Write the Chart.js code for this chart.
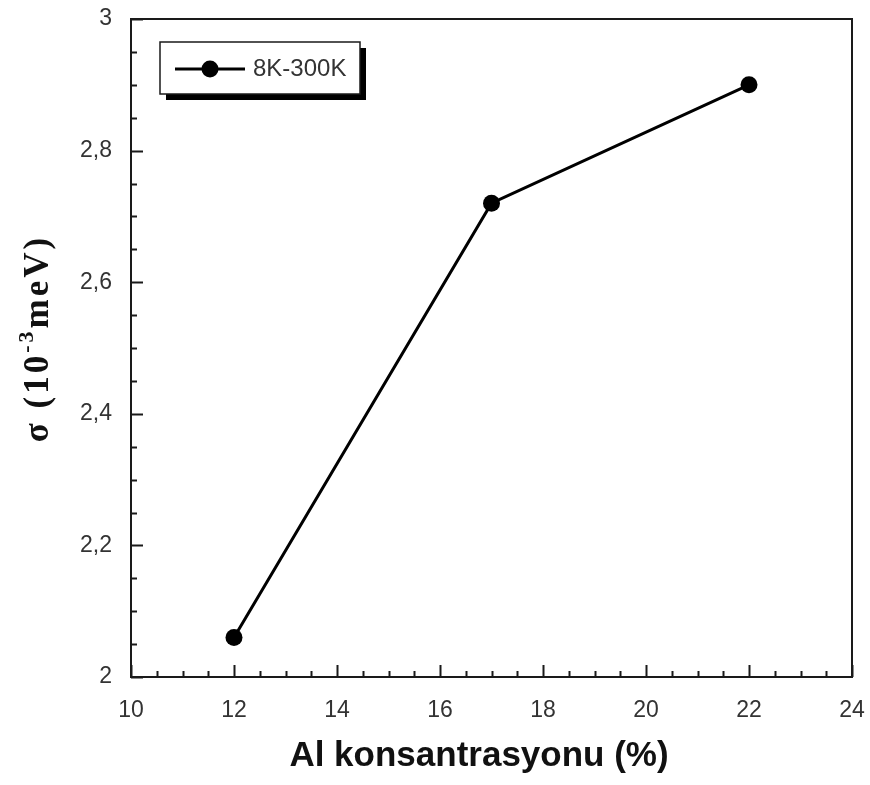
<!DOCTYPE html>
<html lang="en">
<head>
<meta charset="UTF-8">
<title>Al konsantrasyonu</title>
<script src="https://cdn.jsdelivr.net/npm/chart.js"></script>
<style>
  html, body { margin: 0; padding: 0; background: #fff; }
</style>
</head>
<body>
<canvas id="myChart" width="870" height="785"></canvas>
<script>
// sigma vs Al concentration, 8K-300K fit
const alPercent = [12, 17, 22];
const sigmaValues = [2.06, 2.72, 2.9];
const seriesLabel = '8K-300K';
const xTitle = 'Al konsantrasyonu (%)';
const yTitleMain = 'σ (10';
const yTitleSup = '-3';
const yTitleTail = 'meV)';

const xMin = 10, xMax = 24, xStep = 2, xMinor = 0.5;
const yMin = 2, yMax = 3, yStep = 0.2, yMinor = 0.05;

const tickFont = { family: 'Liberation Sans, Arial, sans-serif', size: 23 };

// draws a string one glyph at a time with extra spacing, returns the advance
function spacedText(ctx, text, x, y, gap, dryRun) {
  let cx = x;
  for (const ch of text) {
    if (!dryRun) ctx.fillText(ch, cx, y);
    cx += ctx.measureText(ch).width + gap;
  }
  return cx - x;
}

// frame, inward ticks, titles and boxed legend
const framePlugin = {
  id: 'frame',
  beforeDatasetsDraw(chart) {
    const { ctx, chartArea: a, scales: { x, y } } = chart;
    ctx.save();
    ctx.strokeStyle = '#1a1a1a';
    ctx.lineWidth = 2;
    ctx.beginPath();
    for (let v = xMin; v <= xMax + 1e-9; v += xMinor) {
      const px = Math.round(x.getPixelForValue(v)) + 0.5;
      const major = Math.abs(v / xStep - Math.round(v / xStep)) < 1e-6;
      const len = major ? 12 : 6;
      ctx.moveTo(px, a.bottom);
      ctx.lineTo(px, a.bottom - len);
    }
    for (let v = yMin; v <= yMax + 1e-9; v += yMinor) {
      const py = Math.round(y.getPixelForValue(v)) + 0.5;
      const major = Math.abs(v / yStep - Math.round(v / yStep)) < 1e-6;
      const len = major ? 12 : 6;
      ctx.moveTo(a.left, py);
      ctx.lineTo(a.left + len, py);
    }
    ctx.stroke();
    ctx.strokeRect(a.left, a.top, a.right - a.left, a.bottom - a.top);
    ctx.restore();
  },
  afterDraw(chart) {
    const { ctx } = chart;
    const ds = chart.data.datasets[0];
    ctx.save();

    // x title
    ctx.fillStyle = '#111';
    ctx.font = 'bold 35px "Liberation Sans", Arial, sans-serif';
    ctx.textAlign = 'center';
    ctx.textBaseline = 'middle';
    ctx.fillText(xTitle, 479, 756);

    // y title with superscript exponent, slightly letter-spaced
    const mainFont = 'bold 35px "Liberation Serif", "Times New Roman", serif';
    const supFont = 'bold 22px "Liberation Serif", "Times New Roman", serif';
    const gap = 3;
    ctx.textAlign = 'left';
    ctx.textBaseline = 'alphabetic';
    ctx.font = mainFont;
    const w1 = spacedText(ctx, yTitleMain, 0, 0, gap, true);
    const w3 = spacedText(ctx, yTitleTail, 0, 0, gap, true);
    ctx.font = supFont;
    const w2 = spacedText(ctx, yTitleSup, 0, 0, gap, true);
    const total = w1 + w2 + w3 - gap;
    ctx.translate(37, 340);
    ctx.rotate(-Math.PI / 2);
    let cx = -total / 2;
    ctx.font = mainFont;
    cx += spacedText(ctx, yTitleMain, cx, 11, gap);
    ctx.font = supFont;
    cx += spacedText(ctx, yTitleSup, cx, -4, gap);
    ctx.font = mainFont;
    spacedText(ctx, yTitleTail, cx, 11, gap);
    ctx.setTransform(1, 0, 0, 1, 0, 0);

    // legend box with drop shadow
    const bx = 160, by = 42, bw = 200, bh = 52;
    ctx.fillStyle = '#000';
    ctx.fillRect(bx + 6, by + 6, bw, bh);
    ctx.fillStyle = '#fff';
    ctx.fillRect(bx, by, bw, bh);
    ctx.strokeStyle = '#1a1a1a';
    ctx.lineWidth = 1.5;
    ctx.strokeRect(bx, by, bw, bh);
    const ly = by + bh / 2 + 1;
    ctx.strokeStyle = ds.borderColor;
    ctx.lineWidth = ds.borderWidth;
    ctx.beginPath();
    ctx.moveTo(bx + 15, ly);
    ctx.lineTo(bx + 85, ly);
    ctx.stroke();
    ctx.fillStyle = ds.pointBackgroundColor;
    ctx.beginPath();
    ctx.arc(bx + 50, ly, ds.pointRadius, 0, Math.PI * 2);
    ctx.fill();
    ctx.fillStyle = '#333';
    ctx.font = '24px "Liberation Sans", Arial, sans-serif';
    ctx.textAlign = 'left';
    ctx.textBaseline = 'middle';
    ctx.fillText(ds.label, bx + 93, ly);
    ctx.restore();
  }
};

new Chart(document.getElementById('myChart'), {
  type: 'scatter',
  data: {
    datasets: [{
      label: seriesLabel,
      data: alPercent.map((v, i) => ({ x: v, y: sigmaValues[i] })),
      showLine: true,
      borderColor: '#000',
      borderWidth: 3,
      pointRadius: 8.5,
      pointHoverRadius: 8.5,
      pointBackgroundColor: '#000',
      pointBorderWidth: 0,
      clip: false
    }]
  },
  options: {
    responsive: false,
    animation: false,
    events: [],
    layout: { padding: { top: 19, right: 18, left: 0, bottom: 0 } },
    plugins: { legend: { display: false }, tooltip: { enabled: false } },
    scales: {
      x: {
        type: 'linear',
        min: xMin, max: xMax,
        ticks: { stepSize: xStep, font: tickFont, color: '#333', padding: 20 },
        grid: { display: false, drawTicks: false },
        border: { display: false },
        afterFit(scale) {
          scale.height = 108;
          scale.paddingLeft = 0;
          scale.paddingRight = 0;
        }
      },
      y: {
        type: 'linear',
        min: yMin, max: yMax,
        ticks: {
          stepSize: yStep, font: tickFont, color: '#333', padding: 19,
          callback: v => Number.isInteger(v) ? String(v) : v.toFixed(1).replace('.', ',')
        },
        grid: { display: false, drawTicks: false },
        border: { display: false },
        afterFit(scale) {
          scale.width = 131;
          scale.paddingTop = 0;
          scale.paddingBottom = 0;
        }
      }
    }
  },
  plugins: [framePlugin]
});
</script>
</body>
</html>
